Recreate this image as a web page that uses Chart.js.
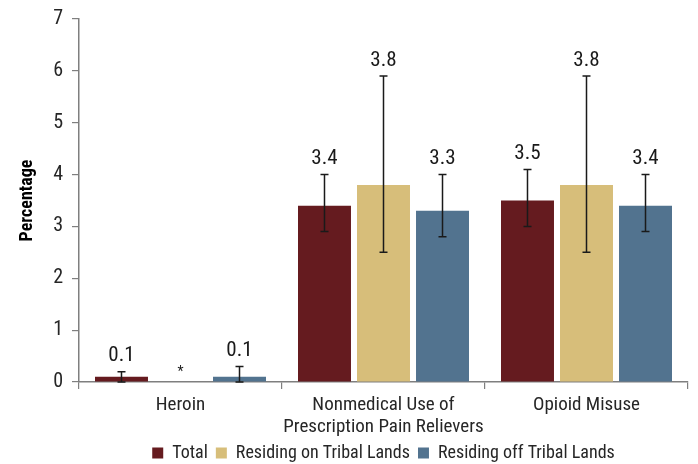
<!DOCTYPE html>
<html>
<head>
<meta charset="utf-8">
<script src="https://cdn.jsdelivr.net/npm/chart.js@4"></script>
<style>
html,body{margin:0;padding:0;background:#fff;}
#wrap{width:698px;height:464px;}
</style>
</head>
<body>
<div id="wrap"><canvas id="c" width="698" height="464"></canvas></div>
<script>
const categories = [['Heroin'], ['Nonmedical Use of', 'Prescription Pain Relievers'], ['Opioid Misuse']];
const seriesNames = ['Total', 'Residing on Tribal Lands', 'Residing off Tribal Lands'];
const totalValues = [0.1, 3.4, 3.5];
const totalLow = [0.0, 2.9, 3.0];
const totalHigh = [0.2, 4.0, 4.1];
const tribalValues = [0, 3.8, 3.8];
const tribalLow = [null, 2.5, 2.5];
const tribalHigh = [null, 5.9, 5.9];
const tribalSuppressed = [true, false, false];
const offValues = [0.1, 3.3, 3.4];
const offLow = [0.0, 2.8, 2.9];
const offHigh = [0.3, 4.0, 4.0];
const yTicks = [0, 1, 2, 3, 4, 5, 6, 7];

const FONT = "'Liberation Sans Narrow', 'Arial Narrow', 'Roboto Condensed', Roboto, sans-serif";
const colors = ['#651B1F', '#D7BE7A', '#52738F'];

const errData = [
  {low: totalLow, high: totalHigh, supp: [false, false, false]},
  {low: tribalLow, high: tribalHigh, supp: tribalSuppressed},
  {low: offLow, high: offHigh, supp: [false, false, false]}
];

const errorBarPlugin = {
  id: 'errorBars',
  afterLayout(chart) {
    const lg = chart.legend;
    if (lg) {
      lg.left = chart.chartArea.left;
      lg.right = chart.chartArea.right;
      lg.width = lg.right - lg.left;
    }
  },
  afterDatasetsDraw(chart) {
    const ctx = chart.ctx;
    const y = chart.scales.y;
    chart.data.datasets.forEach((ds, di) => {
      const meta = chart.getDatasetMeta(di);
      meta.data.forEach((bar, i) => {
        const e = errData[di];
        const x = bar.x;
        let topPx = y.getPixelForValue(ds.data[i]);
        if (e.low[i] != null && e.high[i] != null) {
          const lo = y.getPixelForValue(e.low[i]);
          const hi = y.getPixelForValue(e.high[i]);
          topPx = hi;
          ctx.save();
          ctx.strokeStyle = '#1a1a1a';
          ctx.lineWidth = 1.5;
          ctx.beginPath();
          ctx.moveTo(x, lo); ctx.lineTo(x, hi);
          ctx.moveTo(x - 4, lo); ctx.lineTo(x + 4, lo);
          ctx.moveTo(x - 4, hi); ctx.lineTo(x + 4, hi);
          ctx.stroke();
          ctx.restore();
        }
        ctx.save();
        ctx.fillStyle = '#1a1a1a';
        ctx.textAlign = 'center';
        ctx.textBaseline = 'bottom';
        if (e.supp[i]) {
          ctx.font = '14px ' + FONT;
          ctx.fillText('*', x, topPx - 3);
        } else {
          ctx.font = '21px ' + FONT;
          ctx.fillText(ds.data[i].toFixed(1), x, topPx - 5);
        }
        ctx.restore();
      });
    });
  }
};

new Chart(document.getElementById('c'), {
  type: 'bar',
  data: {
    labels: categories,
    datasets: [
      {label: seriesNames[0], data: totalValues, backgroundColor: colors[0]},
      {label: seriesNames[1], data: tribalValues, backgroundColor: colors[1]},
      {label: seriesNames[2], data: offValues, backgroundColor: colors[2]}
    ]
  },
  options: {
    responsive: false,
    animation: false,
    devicePixelRatio: 1,
    datasets: {bar: {categoryPercentage: 0.872, barPercentage: 0.898}},
    layout: {padding: {top: 14, right: 10, left: 0, bottom: -8}},
    scales: {
      x: {
        grid: {display: true, drawOnChartArea: false, drawTicks: true, tickLength: 7, color: '#7f7f7f', lineWidth: 1.2, offset: true},
        border: {display: true, color: '#7f7f7f', width: 1.5},
        ticks: {color: '#262626', font: {family: FONT, size: 19, lineHeight: 1.18}, padding: 5, maxRotation: 0, autoSkip: false},
        afterFit(s) { s.height = 54; }
      },
      y: {
        min: 0, max: 7,
        afterBuildTicks(s) { s.ticks = yTicks.map(v => ({value: v})); },
        grid: {display: true, drawOnChartArea: false, drawTicks: true, tickLength: 7, color: '#7f7f7f', lineWidth: 1.2},
        border: {display: true, color: '#7f7f7f', width: 1.5},
        ticks: {color: '#262626', font: {family: FONT, size: 20, lineHeight: 1.0}, padding: 9},
        title: {display: true, text: 'Percentage', color: '#000', font: {family: FONT, size: 18, weight: 'bold'}, padding: {top: 17, bottom: 0}},
        afterFit(s) { s.width = 79; }
      }
    },
    plugins: {
      legend: {
        position: 'bottom',
        labels: {boxWidth: 11, boxHeight: 11, color: '#262626', font: {family: FONT, size: 18, lineHeight: 1.0}, padding: 8}
      },
      tooltip: {enabled: false}
    }
  },
  plugins: [errorBarPlugin]
});
</script>
</body>
</html>
